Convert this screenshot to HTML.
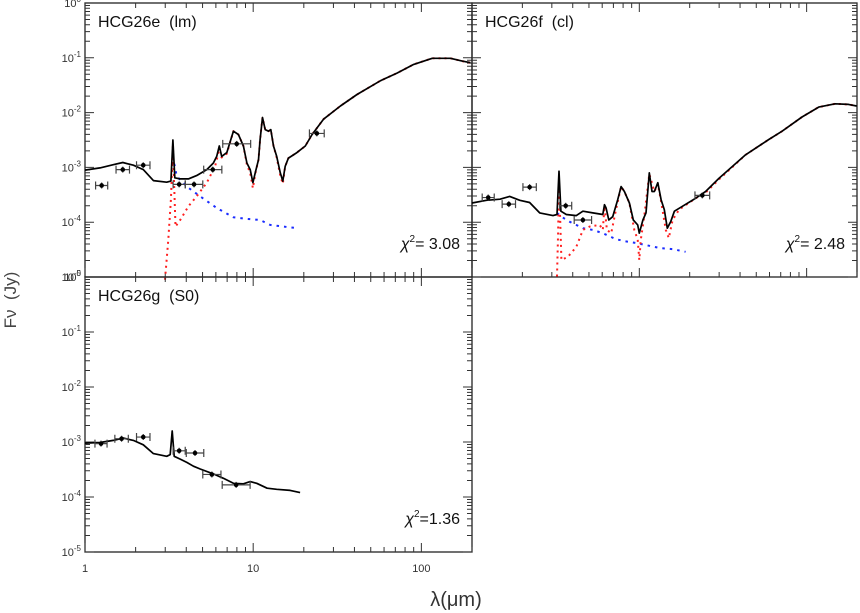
<!DOCTYPE html>
<html><head><meta charset="utf-8">
<style>
html,body{margin:0;padding:0;background:#fff;}
svg{display:block;font-family:"Liberation Sans",sans-serif;}
.pre{white-space:pre;}
</style></head>
<body>
<svg id="chart" width="860" height="613" viewBox="0 0 860 613" xmlns="http://www.w3.org/2000/svg">
<text class="pre" x="0" y="0" transform="translate(16,300) rotate(-90)" text-anchor="middle" font-size="17" fill="#444">Fν  (Jy)</text>
<text x="456" y="606" text-anchor="middle" font-size="20" fill="#333">λ(μm)</text>
</svg>
<script>
// ---- data: wavelengths (micron) and log10 flux (Jy) ----
const eModelLam = [1.0,1.228,1.474,1.677,1.94,2.22,2.55,3.06,3.24,3.33,3.42,3.68,4.12,4.61,5.30,5.80,6.07,6.29,6.50,6.97,7.63,8.17,8.75,9.17,9.60,9.96,10.28,10.76,11.0,11.36,11.78,12.33,12.73,13.2,13.8,14.5,15.0,15.5,16.2,18.2,20.4,22.4,26.2,33.0,41.4,57,71.6,90,116,149,175,196];
const eModelLog = [-3.05,-3.01,-2.95,-2.91,-2.96,-3.04,-3.24,-3.27,-3.25,-2.50,-3.19,-3.21,-3.21,-3.15,-3.04,-2.92,-2.80,-2.61,-2.80,-2.73,-2.34,-2.40,-2.61,-2.92,-3.04,-3.28,-3.10,-2.86,-2.49,-2.09,-2.31,-2.34,-2.31,-2.61,-2.80,-3.10,-3.25,-2.98,-2.83,-2.73,-2.61,-2.40,-2.12,-1.88,-1.67,-1.42,-1.28,-1.12,-1.01,-1.01,-1.06,-1.09];
const eDustLam = [2.99,3.13,3.24,3.33,3.39,3.45,3.68,4.12,4.61,5.30,5.94,6.22,6.50,6.97,7.63,8.17,8.75,9.17,9.60,9.96,10.28,10.76,11.0,11.36,11.78,12.33,12.73,13.2,13.8,14.5,15.0,15.5,16.2,18.2,20.4,22.4,26.2,33.0,41.4,57,71.6,90,116,149,175,196];
const eDustLog = [-5.05,-4.32,-3.59,-2.61,-3.35,-4.08,-3.96,-3.71,-3.53,-3.28,-2.98,-2.73,-2.82,-2.75,-2.34,-2.40,-2.61,-2.95,-3.10,-3.38,-3.12,-2.86,-2.49,-2.09,-2.31,-2.34,-2.31,-2.61,-2.82,-3.15,-3.30,-2.98,-2.83,-2.73,-2.61,-2.40,-2.12,-1.88,-1.67,-1.42,-1.28,-1.12,-1.01,-1.01,-1.06,-1.09];
const eStarLam = [3.33,3.51,4.03,4.84,6.08,7.63,9.17,11.0,12.6,15.1,18.6];
const eStarLog = [-2.80,-3.16,-3.35,-3.53,-3.74,-3.91,-3.94,-3.96,-4.05,-4.08,-4.11];
const eObsLam = [1.256,1.677,2.22,3.63,4.45,5.75,7.98,23.9];
const eObsLog = [-3.33,-3.04,-2.96,-3.31,-3.31,-3.04,-2.57,-2.38];
const eObsHalf = [0.036,0.04,0.04,0.036,0.052,0.054,0.083,0.044];

const fModelLam = [1.0,1.22,1.47,1.68,1.93,2.21,2.54,3.05,3.22,3.31,3.40,3.66,4.20,4.60,5.27,6.05,6.19,6.33,6.57,6.93,7.43,7.78,8.14,8.72,9.21,9.78,10.0,10.5,10.96,11.47,11.9,12.3,12.9,13.5,14.1,14.7,15.4,16.2,18.1,21.8,24.9,29.9,43.2,59.4,71.3,93.8,118,148,178,199];
const fModelLog = [-3.65,-3.60,-3.58,-3.53,-3.60,-3.64,-3.83,-3.88,-3.86,-3.07,-3.80,-3.86,-3.88,-3.80,-3.83,-3.86,-3.68,-3.74,-3.96,-3.90,-3.59,-3.35,-3.44,-3.65,-3.96,-4.05,-4.20,-3.96,-3.83,-3.10,-3.44,-3.44,-3.28,-3.59,-3.77,-4.11,-3.99,-3.80,-3.71,-3.56,-3.44,-3.20,-2.77,-2.49,-2.34,-2.08,-1.90,-1.84,-1.85,-1.88];
const fDustLam = [3.22,3.27,3.31,3.37,3.42,3.75,4.20,4.60,5.04,5.8,6.05,6.19,6.4,6.79,7.26,7.78,8.14,8.72,9.33,9.78,10.0,10.2,10.7,11.47,12.3,12.9,13.5,14.4,15.0,15.8,17.3,21.8,24.9,29.9,43.2,59.4,71.3,93.8,118,148,178,199];
const fDustLog = [-4.99,-4.20,-3.28,-4.02,-4.69,-4.63,-4.45,-4.14,-4.08,-4.05,-4.14,-3.71,-4.14,-4.20,-3.77,-3.35,-3.44,-3.65,-4.14,-4.32,-4.69,-4.32,-3.90,-3.12,-3.44,-3.30,-3.62,-4.14,-4.29,-3.96,-3.77,-3.56,-3.46,-3.22,-2.77,-2.49,-2.34,-2.08,-1.90,-1.84,-1.85,-1.88];
const fStarLam = [3.22,3.42,3.83,4.60,5.27,6.05,7.26,8.33,9.56,11.47,13.2,15.8,18.9];
const fStarLog = [-3.83,-3.90,-3.99,-4.11,-4.14,-4.20,-4.31,-4.35,-4.38,-4.43,-4.47,-4.49,-4.54];
const fObsLam = [1.25,1.66,2.21,3.63,4.60,23.8];
const fObsLog = [-3.55,-3.67,-3.36,-3.70,-3.96,-3.51];
const fObsHalf = [0.036,0.04,0.04,0.036,0.052,0.044];

const gModelLam = [1.0,1.228,1.474,1.69,1.94,2.22,2.55,3.06,3.21,3.30,3.39,3.68,4.03,4.41,4.84,5.80,6.65,7.63,8.75,9.6,10.5,12.1,13.8,16.6,19.0];
const gModelLog = [-3.02,-3.01,-2.97,-2.93,-2.97,-3.05,-3.21,-3.26,-3.23,-2.80,-3.26,-3.31,-3.37,-3.44,-3.49,-3.58,-3.66,-3.75,-3.76,-3.72,-3.75,-3.84,-3.86,-3.88,-3.92];
const gObsLam = [1.245,1.65,2.22,3.63,4.51,5.68,7.92];
const gObsLog = [-3.03,-2.94,-2.91,-3.16,-3.20,-3.59,-3.78];
const gObsHalf = [0.036,0.04,0.04,0.036,0.052,0.054,0.083];

const yTickExps = [0,-1,-2,-3,-4,-5];
const xTickLabels = ["1","10","100"];
const chiLabels = ["3.08","2.48","1.36"];

// ---- drawing ----
const NS = "http://www.w3.org/2000/svg";
const svg = document.getElementById("chart");
const LAMMAX = 200;
function mk(tag, parent){ const e=document.createElementNS(NS,tag); parent.appendChild(e); return e; }

function makePanel(name, x0, x1, yt, yb, title, chi, showXLabels, showYLabels){
  const g = mk("g", svg);
  
  
  const dec = (x1-x0)/Math.log10(LAMMAX);
  const ydec = (yb-yt)/5;
  const X = l => x0 + Math.log10(l)*dec;
  const Y = lf => yt - lf*ydec;
  const r = mk("rect", g);
  
  
  r.setAttribute("x",x0); r.setAttribute("y",yt); r.setAttribute("width",x1-x0); r.setAttribute("height",yb-yt);
  r.setAttribute("fill","none"); r.setAttribute("stroke","#222"); r.setAttribute("stroke-width","1.3");
  let d="";
  for(let e=0;e<3;e++){ for(let m=1;m<10;m++){ const l=m*Math.pow(10,e); if(l>LAMMAX) break; const x=X(l); const L=(m===1)?9:5;
    d+=`M${x},${yb}v${-L}M${x},${yt}v${L}`; } }
  for(let e=0;e>-5;e--){ for(let m=1;m<10;m++){ const y=Y(e-1+Math.log10(m)); const L=(m===1)?9:5;
    d+=`M${x0},${y}h${L}M${x1},${y}h${-L}`; } }
  const t = mk("path", g);
  
  
  t.setAttribute("d",d); t.setAttribute("stroke","#333"); t.setAttribute("stroke-width","1"); t.setAttribute("fill","none");
  if(showYLabels){
    yTickExps.forEach(ex=>{
      const tx = mk("text", g);
      
      
      tx.setAttribute("x", x0-4); tx.setAttribute("y", Y(ex)+4); tx.setAttribute("text-anchor","end");
      tx.setAttribute("font-size","11"); tx.setAttribute("fill","#333");
      tx.innerHTML = `10<tspan dy="-5" font-size="8">${ex}</tspan>`;
    });
  }
  if(showXLabels){
    xTickLabels.forEach(s=>{
      const tx = mk("text", g);
      
      
      tx.setAttribute("x", X(parseFloat(s))); tx.setAttribute("y", yb+20); tx.setAttribute("text-anchor","middle");
      tx.setAttribute("font-size","11"); tx.setAttribute("fill","#333");
      tx.textContent = s;
    });
  }
  const tt = mk("text", g);
  
  
  tt.setAttribute("class","pre");
  tt.setAttribute("x", x0+13); tt.setAttribute("y", yt+24); tt.setAttribute("font-size","16"); tt.setAttribute("fill","#111");
  tt.textContent = title;
  const ct = mk("text", g);
  
  
  ct.setAttribute("class","pre");
  ct.setAttribute("x", x1-12); ct.setAttribute("y", yb-28); ct.setAttribute("text-anchor","end"); ct.setAttribute("font-size","16"); ct.setAttribute("fill","#111");
  ct.innerHTML = `<tspan font-style="italic">χ</tspan><tspan dy="-7" font-size="10">2</tspan><tspan dy="7">=${chi==="1.36"?"":" "}${chi}</tspan>`;
  return {g,X,Y,x0,x1,yt,yb};
}

function line(p, lams, logs, color, dash, w, name){
  const pts = lams.map((l,i)=>`${p.X(l).toFixed(1)},${p.Y(logs[i]).toFixed(1)}`).join(" ");
  const pl = mk("polyline", p.g);
  
  
  pl.setAttribute("points", pts); pl.setAttribute("fill","none"); pl.setAttribute("stroke",color);
  pl.setAttribute("stroke-width", w); if(dash) pl.setAttribute("stroke-dasharray", dash);
  pl.setAttribute("stroke-linejoin","round");
}
function obs(p, lams, logs, half){
  lams.forEach((l,i)=>{
    const cx=p.X(l), cy=p.Y(logs[i]);
    const xl=p.X(l*Math.pow(10,-half[i])), xr=p.X(l*Math.pow(10,half[i]));
    const e = mk("path", p.g);
    
    
    e.setAttribute("d", `M${xl},${cy}H${xr}M${xl},${cy-4}v8M${xr},${cy-4}v8M${cx},${cy-3}v6`);
    e.setAttribute("stroke","#444"); e.setAttribute("stroke-width","1.2"); e.setAttribute("fill","none");
    const c = mk("circle", p.g);
    
    
    c.setAttribute("cx",cx); c.setAttribute("cy",cy); c.setAttribute("r","2.3"); c.setAttribute("fill","#000");
  });
}

const pE = makePanel("panel-hcg26e", 85, 472, 3, 277, "HCG26e  (lm)", chiLabels[0], false, true);
line(pE, eStarLam, eStarLog, "#1a2cff", "2.5,5", 2, "stellar-component-line");
line(pE, eDustLam, eDustLog, "#ff2020", "2,4", 2, "dust-component-line");
line(pE, eModelLam, eModelLog, "#000", null, 1.7, "total-model-line");
obs(pE, eObsLam, eObsLog, eObsHalf);

const pF = makePanel("panel-hcg26f", 472, 857, 3, 277, "HCG26f  (cl)", chiLabels[1], false, false);
line(pF, fStarLam, fStarLog, "#1a2cff", "2.5,5", 2, "stellar-component-line");
line(pF, fDustLam, fDustLog, "#ff2020", "2,4", 2, "dust-component-line");
line(pF, fModelLam, fModelLog, "#000", null, 1.7, "total-model-line");
obs(pF, fObsLam, fObsLog, fObsHalf);

const pG = makePanel("panel-hcg26g", 85, 472, 277, 552, "HCG26g  (S0)", chiLabels[2], true, true);
line(pG, gModelLam, gModelLog, "#000", null, 1.7, "total-model-line");
obs(pG, gObsLam, gObsLog, gObsHalf);
</script>
</body></html>
